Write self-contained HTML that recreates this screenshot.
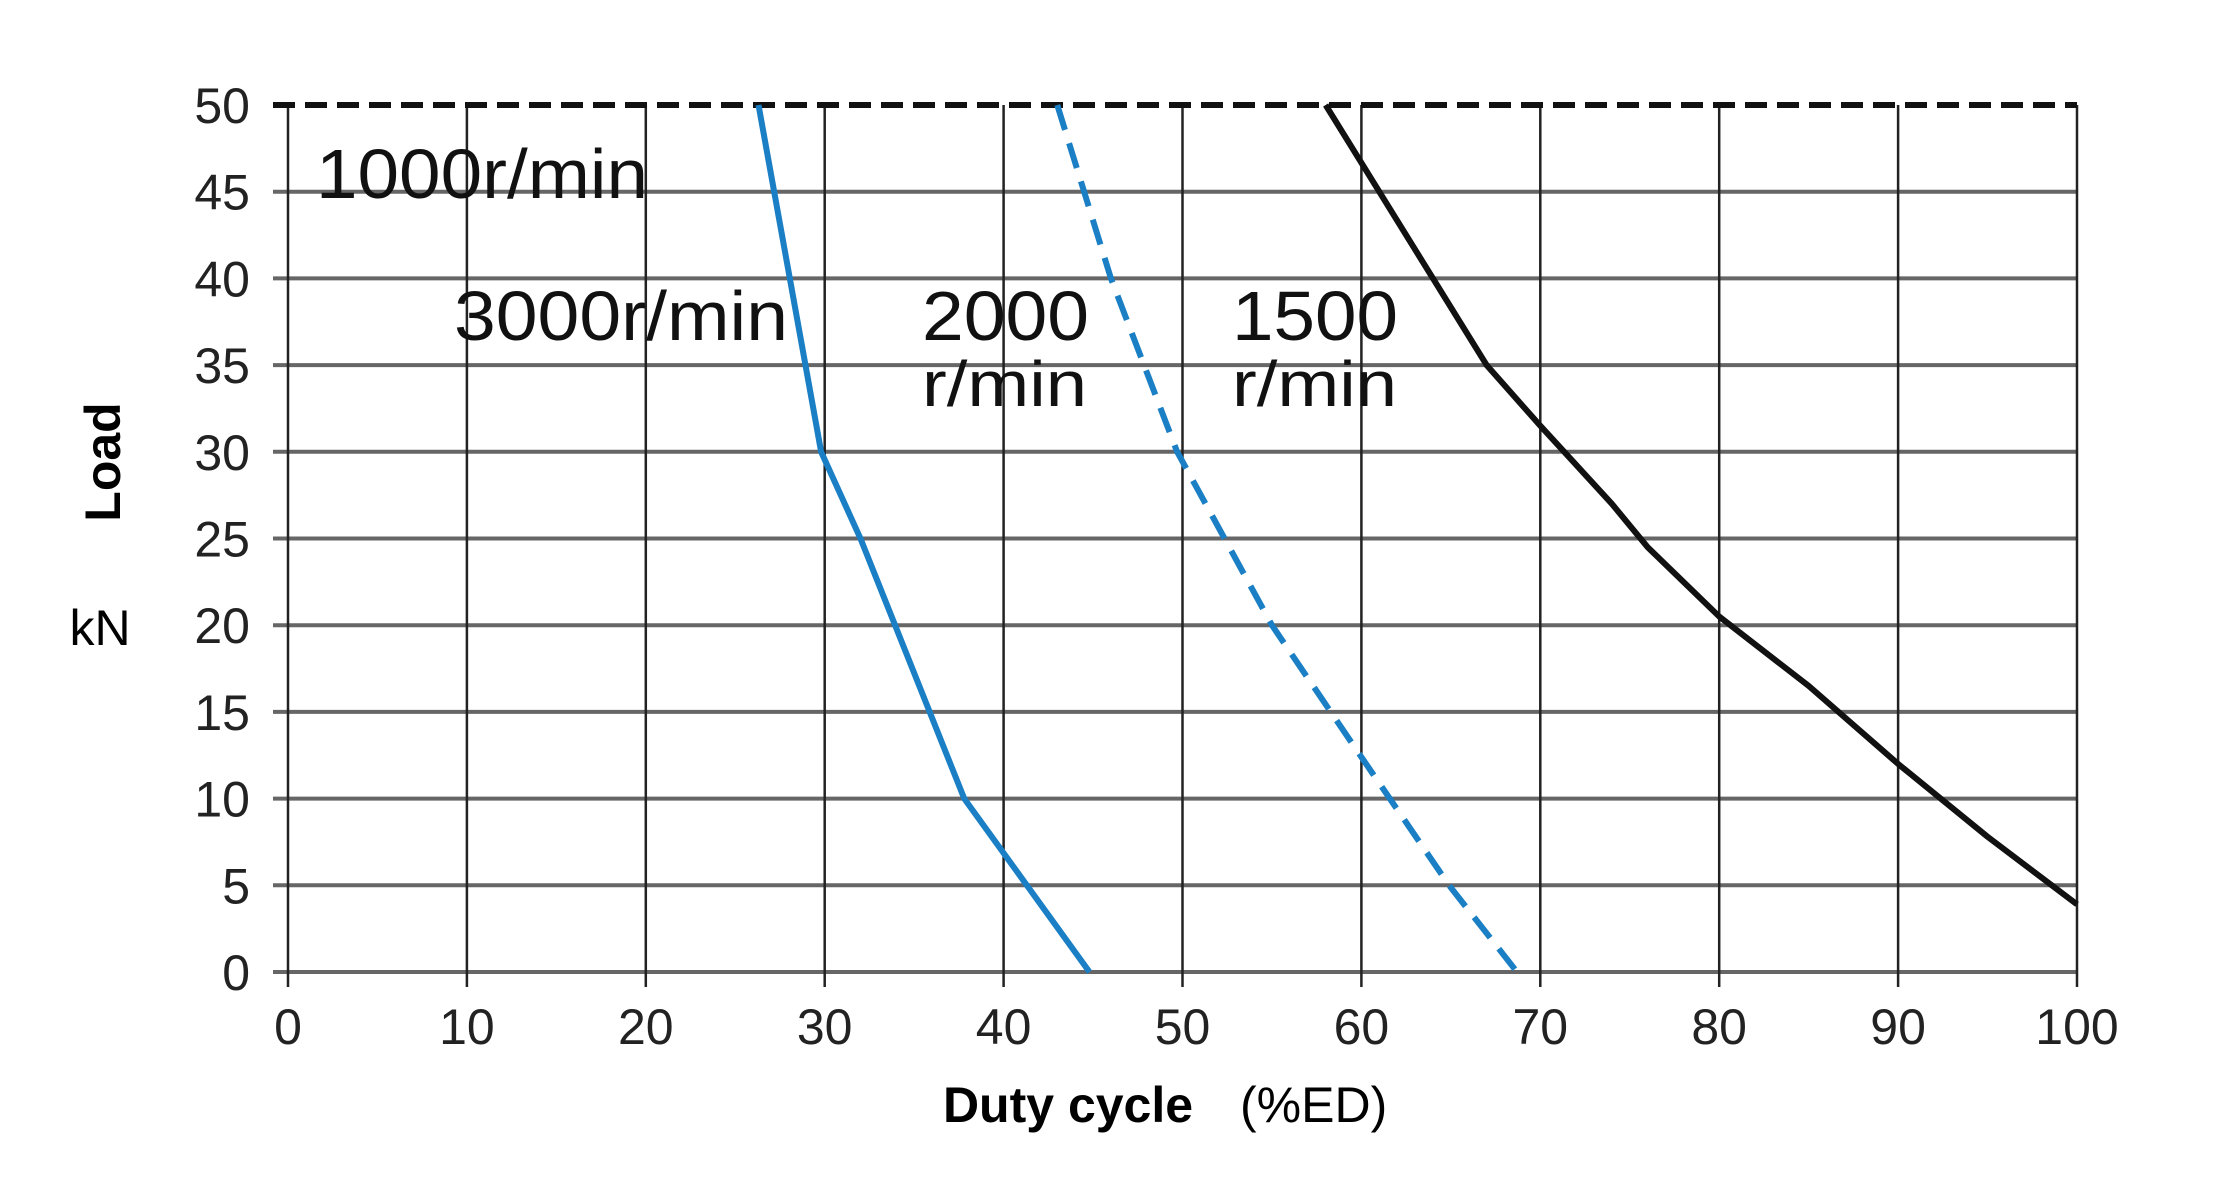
<!DOCTYPE html>
<html><head><meta charset="utf-8"><style>
html,body{margin:0;padding:0;background:#fff;}
svg{display:block;font-family:"Liberation Sans",sans-serif;}
</style></head><body>
<svg id="chart" width="2222" height="1196" viewBox="0 0 2222 1196" xmlns="http://www.w3.org/2000/svg">
<g id="grid"></g>
<g id="series"></g>
<g id="ticks"></g>
<text x="316" y="198" font-size="70" textLength="332" lengthAdjust="spacingAndGlyphs" fill="#111">1000r/min</text>
<text x="454" y="340" font-size="70" textLength="334" lengthAdjust="spacingAndGlyphs" fill="#111">3000r/min</text>
<text x="922" y="340" font-size="70" textLength="167" lengthAdjust="spacingAndGlyphs" fill="#111">2000</text>
<text x="922" y="406" font-size="64" textLength="165" lengthAdjust="spacingAndGlyphs" fill="#111">r/min</text>
<text x="1232" y="340" font-size="70" textLength="166" lengthAdjust="spacingAndGlyphs" fill="#111">1500</text>
<text x="1232" y="406" font-size="64" textLength="165" lengthAdjust="spacingAndGlyphs" fill="#111">r/min</text>
<text transform="translate(120,462) rotate(-90)" text-anchor="middle" font-size="50" font-weight="bold">Load</text>
<text x="100" y="645" text-anchor="middle" font-size="50">kN</text>
<text x="1068" y="1122" text-anchor="middle" font-size="50" font-weight="bold">Duty cycle</text>
<text x="1240" y="1122" font-size="50">(%ED)</text>
</svg>
<script>
const xTicks=[0,10,20,30,40,50,60,70,80,90,100];
const yTicks=[0,5,10,15,20,25,30,35,40,45,50];
const s3000x=[26.3,29.8,32,37.8,44.8];
const s3000y=[50,30,25,10,0];
const s2000x=[43,46,49.7,55,59.6,64.9,68.7];
const s2000y=[50,40,30,20,13,5,0];
const s1500x=[58,67,70,74,76,80,85,90,95,100];
const s1500y=[50,35,31.5,27,24.5,20.5,16.5,12,7.8,3.9];
const X0=288,X1=2077,Y0=972,Y1=105;
function sx(v){return X0+(X1-X0)*v/100;}
function sy(v){return Y0-(Y0-Y1)*v/50;}
const NS="http://www.w3.org/2000/svg";
function mk(t,a,p){const e=document.createElementNS(NS,t);for(const k in a)e.setAttribute(k,a[k]);p.appendChild(e);return e;}
const gridG=document.getElementById('grid'),ticksG=document.getElementById('ticks'),seriesG=document.getElementById('series');
yTicks.forEach(v=>{
  if(v<50){const l=mk('line',{x1:X0-15,x2:X1,y1:sy(v),y2:sy(v),stroke:'#666','stroke-width':4},gridG);
  
  }
  const t=mk('text',{x:X0-38,y:sy(v)+18,'text-anchor':'end','font-size':50,fill:'#222'},ticksG);
  t.textContent=v;
  
  
});
xTicks.forEach(v=>{
  const l=mk('line',{x1:sx(v),x2:sx(v),y1:Y1,y2:Y0+15,stroke:'#222','stroke-width':2.5},gridG);
  
  
  const t=mk('text',{x:sx(v),y:Y0+72,'text-anchor':'middle','font-size':50,fill:'#222'},ticksG);
  t.textContent=v;
  
  
});
const maxLine=mk('line',{x1:X0-15,x2:X1,y1:sy(50),y2:sy(50),stroke:'#111','stroke-width':6,'stroke-dasharray':'22 10'},gridG);


function path(xs,ys){return xs.map((x,i)=>(i?'L':'M')+sx(x)+','+sy(ys[i])).join(' ');}
const p1=mk('path',{d:path(s3000x,s3000y),fill:'none',stroke:'#1a7fc4','stroke-width':6},seriesG);


const p2=mk('path',{d:path(s2000x,s2000y),fill:'none',stroke:'#1a7fc4','stroke-width':6,'stroke-dasharray':'26 14'},seriesG);


const p3=mk('path',{d:path(s1500x,s1500y),fill:'none',stroke:'#111','stroke-width':6,'stroke-linejoin':'round'},seriesG);


</script>
</body></html>
